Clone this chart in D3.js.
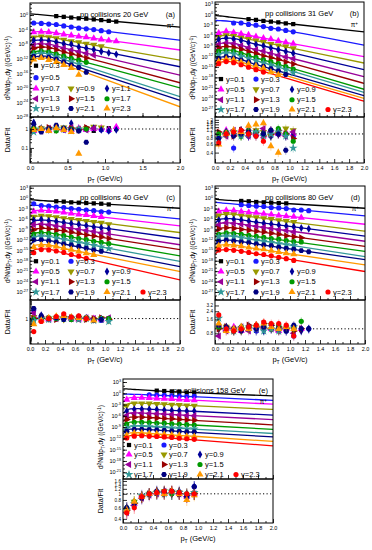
<!DOCTYPE html>
<html lang="en">
<head>
<meta charset="UTF-8">
<title>pi+ spectra in pp collisions</title>
<script src="https://d3js.org/d3.v7.min.js"></script>
<style>
  body { margin: 0; background: #fff; }
  svg { font-family: "Liberation Sans", Arial, sans-serif; }
  .axis path { display: none; }
  .axis line { stroke: #000; stroke-width: 0.8; }
  .axis text { fill: #000; font-size: 5.5px; }
  .rax text { font-size: 4.6px; }
</style>
</head>
<body>
<svg id="chart" width="372" height="550"></svg>
<script>
// pT bin centres (GeV/c) and knots of the fit curves
const ptGrid = [0.05, 0.15, 0.25, 0.35, 0.45, 0.55, 0.65, 0.75, 0.85, 0.95, 1.05, 1.15, 1.25];
const fitPt = [0.005, 0.05, 0.1, 0.2, 0.5, 1.0, 2.0];

// all yields below are log10 of d2N/dpT dy

// 20 GeV
const rapA = ["0.3", "0.5", "0.7", "0.9", "1.1", "1.3", "1.5", "1.7", "1.9", "2.1", "2.3"];
const firstA = [3, 0, 0, 0, 0, 0, 0, 0, 0, 0, 0];
const fitA = [
  [0.3, 0.25, 0.15, -0.05, -0.6, -1.5, -3.3],
  [-2.3, -2.25, -2.25, -2.35, -3.1, -4.4, -6.9],
  [-5.3, -4.7, -4.55, -4.6, -5.4, -6.8, -9.6],
  [-7.2, -6.2, -5.9, -5.9, -7.0, -8.8, -12.4],
  [-8.4, -7.2, -6.9, -6.9, -8.1, -10.1, -14.2],
  [-9.6, -8.3, -7.95, -7.9, -9.3, -11.7, -16.5],
  [-10.6, -9.2, -8.85, -8.8, -10.4, -13.1, -18.6],
  [-11.7, -10.3, -9.95, -9.9, -11.6, -14.4, -20.0],
  [-12.4, -10.9, -10.55, -10.5, -12.5, -15.8, -22.4],
  [-13.3, -11.7, -11.35, -11.3, -13.3, -16.7, -23.4],
  [-13.8, -12.2, -11.85, -11.8, -14.0, -17.7, -25.2]
];
const yieldA = [
  [-0.3, -0.5, -0.7, -0.9, -1.0, -1.2, -1.4, -1.6, -1.8],
  [-2.2, -2.3, -2.5, -2.6, -3.0, -3.3, -3.6, -3.8, -4.0, -4.3, -4.6],
  [-4.7, -4.6, -4.7, -5.0, -5.3, -5.6, -5.9, -6.1, -6.4, -6.7, -7.0, -7.2],
  [-6.2, -5.9, -6.1, -6.4, -6.8, -7.2, -7.5, -7.9, -8.2, -8.6],
  [-6.9, -6.9, -7.1, -7.4, -7.9, -8.0, -8.8, -9.1, -9.5, -10.0, -10.4, -10.8],
  [-8.3, -7.9, -8.1, -8.6, -9.1, -9.6, -10.1, -10.5, -11.0],
  [-9.2, -8.8, -9.1, -9.6, -10.2, -10.7, -11.2, -11.8],
  [-10.3, -9.9, -10.2, -10.7, -11.3, -11.9, -12.4, -13.0],
  [-10.9, -10.5, -10.8, -11.5, -12.2, -12.8, -13.5],
  [-11.4, -11.5, -11.6, -12.1, -12.9, -13.7, -14.4, -15.7],
  [-12.2, -11.8, -12.3, -12.9, -13.7, -14.5, -16.4]
];
const ratioA = [
  [1.0, 0.9, 1.1, 0.9, 1.0, 0.8, 0.9, 1.1, 1.0],
  [1.2, 0.9, 1.1, 1.3, 0.9, 1.0, 0.8, 1.0, 1.1, 0.9, 0.8],
  [0.8, 1.0, 0.9, 1.2, 1.0, 0.9, 1.1, 0.9, 1.0, 1.1, 0.9, 1.3],
  [0.9, 1.1, 1.0, 0.9, 1.2, 1.0, 0.9, 1.1, 1.3, 1.2],
  [2.2, 1.1, 0.9, 1.3, 1.0, 2.0, 0.9, 1.0, 1.1, 0.9, 0.8, 0.9],
  [1.0, 0.8, 1.1, 1.0, 0.9, 1.2, 1.0, 0.9, 1.1],
  [0.9, 1.0, 1.2, 0.9, 1.0, 1.1, 0.9, 1.2],
  [1.1, 0.9, 1.0, 0.8, 1.1, 1.0, 0.9, 1.0],
  [0.7, 1.0, 0.9, 1.1, 1.0, 0.8, 1.0],
  [1.8, 0.7, 1.0, 1.6, 1.1, 0.9, 0.8, 0.2],
  [0.9, 1.0, 0.8, 1.1, 0.9, 0.7, 0.05]
];

// 31 GeV
const rapB = ["0.1", "0.3", "0.5", "0.7", "0.9", "1.1", "1.3", "1.5", "1.7", "1.9", "2.1", "2.3"];
const firstB = [4, 2, 0, 0, 0, 0, 0, 0, 0, 0, 0, 0];
const fitB = [
  [-0.35, -0.45, -0.55, -0.8, -1.5, -2.7, -5.0],
  [-1.75, -1.8, -1.85, -2.0, -3.0, -4.8, -8.8],
  [-6.5, -5.4, -5.05, -5.0, -6.2, -8.2, -12.1],
  [-7.5, -6.4, -6.05, -6.0, -7.3, -9.5, -13.9],
  [-8.3, -7.2, -6.85, -6.8, -8.3, -10.8, -15.8],
  [-9.8, -8.6, -8.25, -8.2, -9.8, -12.4, -17.8],
  [-10.8, -9.6, -9.25, -9.2, -10.9, -13.8, -19.7],
  [-11.8, -10.6, -10.25, -10.2, -12.1, -15.2, -21.4],
  [-12.6, -11.4, -11.05, -11.0, -12.9, -16.0, -22.3],
  [-13.7, -12.5, -12.15, -12.1, -14.0, -17.1, -23.2],
  [-14.4, -13.2, -12.85, -12.8, -14.7, -17.8, -24.0],
  [-15.1, -13.9, -13.55, -13.5, -15.4, -18.5, -24.8]
];
const yieldB = [
  [-1.4, -1.6, -1.9, -2.1, -2.3, -2.6, -2.8],
  [-2.5, -2.5, -2.9, -3.1, -3.5, -4.0, -4.2, -4.6, -5.0],
  [-5.4, -4.9, -5.2, -5.6, -5.9, -6.4, -6.8, -7.1, -7.6, -8.0, -8.4],
  [-6.5, -6.0, -6.2, -6.7, -7.1, -7.5, -7.9, -8.5, -8.9, -9.2, -9.7],
  [-7.2, -6.8, -7.1, -7.5, -8.1, -8.6, -9.0, -9.6, -10.1, -10.6, -11.1],
  [-8.6, -8.2, -8.4, -9.0, -9.6, -10.1, -10.5, -11.1, -11.7, -12.2, -12.7],
  [-9.6, -9.2, -9.5, -10.0, -10.7, -11.2, -11.9, -12.4, -12.9, -13.6, -14.2],
  [-10.6, -10.2, -10.5, -11.2, -11.7, -12.3, -13.0, -13.5, -14.1, -14.9, -15.6],
  [-11.5, -11.0, -11.3, -12.0, -12.6, -13.2, -13.9, -14.5, -15.1, -15.8, -16.7],
  [-12.6, -12.1, -12.5, -13.1, -13.6, -14.4, -14.9, -15.5, -16.2, -17.2],
  [-13.4, -12.8, -13.0, -13.7, -14.2, -14.8, -15.4, -16.5, -17.3],
  [-14.1, -13.5, -13.8, -14.4, -15.1, -15.8, -16.5]
];
const ratioB = [
  [1.0, 1.1, 0.9, 1.0, 1.2, 1.0, 0.9],
  [0.5, 1.0, 0.9, 1.1, 1.0, 0.9, 1.1, 1.0, 0.9],
  [0.9, 1.2, 1.0, 1.1, 1.3, 1.0, 0.9, 1.2, 1.0, 1.1, 1.0],
  [0.8, 1.0, 1.1, 0.9, 1.0, 1.2, 1.1, 0.9, 1.0, 1.3, 1.2],
  [0.9, 1.1, 1.0, 1.2, 0.9, 1.0, 1.1, 0.9, 1.0, 0.9, 1.0],
  [1.0, 0.9, 1.2, 1.1, 0.9, 1.0, 1.3, 1.1, 1.0, 0.9, 1.1],
  [1.1, 1.0, 0.9, 1.2, 1.0, 1.1, 0.9, 1.0, 1.2, 1.0, 0.8],
  [1.0, 1.1, 1.0, 0.9, 1.2, 1.1, 1.0, 1.2, 1.3, 1.0, 0.7],
  [0.8, 1.0, 1.1, 0.9, 1.0, 1.1, 0.9, 1.0, 1.1, 0.9, 0.5],
  [0.8, 1.0, 0.9, 1.0, 1.1, 0.9, 1.0, 1.2, 1.0, 0.45],
  [0.6, 1.0, 1.2, 1.1, 1.5, 1.6, 1.7, 0.55, 0.4],
  [0.65, 1.0, 1.1, 1.2, 1.0, 0.9, 0.7]
];

// 40 GeV
const rapC = rapB;
const firstC = [3, 0, 0, 0, 0, 0, 0, 0, 0, 0, 0, 0];
const fitC = [
  [-0.4, -0.5, -0.6, -0.75, -1.1, -1.7, -2.9],
  [-2.0, -2.05, -2.1, -2.25, -2.9, -3.9, -6.0],
  [-4.7, -3.9, -3.55, -3.5, -4.25, -5.5, -8.0],
  [-6.3, -5.5, -5.15, -5.1, -5.9, -7.2, -9.9],
  [-7.5, -6.7, -6.35, -6.3, -7.2, -8.65, -11.6],
  [-8.7, -7.9, -7.55, -7.5, -8.5, -10.1, -13.4],
  [-9.9, -9.1, -8.75, -8.7, -9.7, -11.4, -14.8],
  [-11.1, -10.3, -9.95, -9.9, -11.0, -12.9, -16.6],
  [-12.1, -11.3, -10.95, -10.9, -12.1, -14.2, -18.2],
  [-13.3, -12.5, -12.15, -12.1, -13.4, -15.5, -19.7],
  [-14.6, -13.8, -13.45, -13.4, -14.7, -16.8, -21.1],
  [-15.8, -15.0, -14.65, -14.6, -16.1, -18.6, -23.5]
];
const yieldC = [
  [-0.9, -1.0, -1.2, -1.3, -1.4, -1.5, -1.6, -1.8],
  [-1.6, -2.1, -2.3, -2.6, -2.7, -3.0, -3.2, -3.4, -3.6, -3.9, -4.0],
  [-3.8, -3.5, -3.7, -3.8, -4.1, -4.4, -4.7, -4.8, -5.1, -5.4],
  [-5.4, -5.1, -5.2, -5.5, -5.8, -6.0, -6.3, -6.6, -6.9, -7.1, -7.5],
  [-6.3, -6.1, -6.5, -6.7, -7.0, -7.3, -7.5, -7.9, -8.3, -8.5, -8.8],
  [-7.6, -7.5, -7.7, -8.0, -8.2, -8.7, -9.0, -9.3, -9.6, -10.0, -10.2],
  [-9.1, -8.6, -8.9, -9.3, -9.4, -9.8, -10.2, -10.6, -10.9, -11.2, -11.6],
  [-10.3, -9.9, -10.1, -10.5, -10.8, -11.2, -11.6, -11.9, -12.4, -12.7, -13.1],
  [-11.4, -10.9, -11.1, -11.5, -11.9, -12.3, -12.8, -13.1, -13.6, -14.0, -14.5],
  [-12.0, -12.0, -12.3, -12.7, -13.2, -13.5, -13.9, -14.4, -14.9, -15.3],
  [-14.1, -13.5, -13.6, -13.9, -14.3, -14.8, -15.3, -15.8, -16.3],
  [-15.7, -14.8, -14.9, -15.2, -15.6, -16.2, -16.7, -17.3]
];
const ratioC = [
  [1.0, 1.1, 0.9, 1.0, 1.1, 0.9, 1.0, 1.0],
  [3.0, 1.3, 1.1, 1.0, 1.2, 0.9, 1.0, 1.1, 0.9, 0.8, 1.0],
  [1.4, 1.0, 0.9, 1.1, 1.2, 1.0, 0.9, 1.1, 1.0, 0.9],
  [1.2, 0.9, 1.0, 1.1, 0.9, 1.0, 1.1, 1.0, 0.9, 1.0, 0.8],
  [2.5, 1.5, 1.0, 1.2, 1.1, 1.0, 1.2, 1.1, 0.9, 1.0, 0.9],
  [2.0, 1.1, 0.9, 1.0, 1.2, 1.0, 0.9, 1.1, 1.0, 0.9, 1.1],
  [1.0, 1.2, 1.0, 0.9, 1.3, 1.1, 1.0, 0.9, 1.0, 1.1, 0.9],
  [0.9, 1.0, 1.1, 1.0, 1.2, 0.9, 1.0, 1.1, 0.8, 1.0, 1.0],
  [0.8, 1.0, 0.9, 1.1, 1.0, 1.1, 0.9, 1.0, 0.8, 0.9, 0.7],
  [3.5, 1.4, 1.0, 1.1, 0.9, 1.2, 1.3, 1.0, 0.8, 0.9],
  [0.5, 0.8, 1.1, 1.3, 1.4, 1.2, 1.1, 1.0, 0.8],
  [0.2, 0.7, 1.0, 1.3, 1.8, 1.2, 1.4, 1.0]
];

// 80 GeV
const rapD = rapB;
const firstD = [3, 3, 0, 0, 0, 0, 0, 0, 0, 0, 0, 0];
const fitD = [
  [-0.3, -0.4, -0.5, -0.65, -1.0, -1.6, -2.9],
  [-1.2, -1.3, -1.4, -1.6, -2.2, -3.1, -5.1],
  [-4.7, -3.9, -3.55, -3.5, -4.15, -5.25, -7.5],
  [-5.8, -5.0, -4.65, -4.6, -5.4, -6.8, -9.5],
  [-7.1, -6.3, -5.95, -5.9, -6.75, -8.1, -10.9],
  [-8.3, -7.5, -7.15, -7.1, -8.0, -9.45, -12.4],
  [-9.7, -8.9, -8.55, -8.5, -9.4, -10.9, -13.9],
  [-11.2, -10.4, -10.05, -10.0, -10.9, -12.35, -15.3],
  [-12.1, -11.3, -10.95, -10.9, -11.9, -13.5, -16.8],
  [-13.3, -12.5, -12.15, -12.1, -13.05, -14.6, -17.7],
  [-14.6, -13.8, -13.45, -13.4, -14.4, -16.0, -19.2],
  [-16.0, -15.2, -14.85, -14.8, -15.85, -17.6, -21.1]
];
const yieldD = [
  [-0.8, -0.9, -1.1, -1.2, -1.3, -1.4, -1.5],
  [-1.9, -2.1, -2.3, -2.4, -2.7, -2.8, -3.0, -3.4, -3.4, -3.6],
  [-3.8, -3.5, -3.6, -3.9, -4.1, -4.2, -4.5, -4.7, -5.0, -5.2, -5.3, -5.6],
  [-5.0, -4.6, -4.7, -5.1, -5.3, -5.5, -5.8, -6.0, -6.4, -6.6, -6.9],
  [-6.3, -5.9, -6.1, -6.3, -6.6, -6.9, -7.2, -7.4, -7.7, -8.0, -8.2, -8.6, -8.8],
  [-7.7, -7.1, -7.3, -7.5, -7.9, -8.1, -8.4, -8.7, -9.1, -9.3, -9.7],
  [-8.9, -8.5, -8.7, -9.0, -9.2, -9.5, -9.7, -10.1, -10.4, -10.8, -11.1, -11.4],
  [-10.4, -10.0, -10.2, -10.4, -10.7, -11.0, -11.3, -11.6, -11.8, -12.2, -12.5, -12.6],
  [-11.1, -10.9, -11.1, -11.4, -11.7, -12.1, -12.4, -12.7, -13.1, -13.4, -13.6],
  [-12.4, -12.1, -12.3, -12.6, -12.8, -13.2, -13.5, -13.7, -14.1, -14.5, -14.7, -15.1, -15.4],
  [-13.7, -13.4, -13.6, -13.8, -14.2, -14.5, -14.7, -15.1, -15.5, -15.8, -16.1],
  [-14.9, -14.8, -15.0, -15.3, -15.6, -16.0, -16.2, -16.6, -17.0, -17.4, -17.9]
];
const ratioD = [
  [1.0, 1.1, 0.9, 1.0, 1.1, 1.0, 0.9],
  [1.0, 1.1, 0.9, 1.2, 1.0, 1.1, 0.9, 0.7, 1.0, 1.0],
  [1.2, 1.0, 1.1, 0.9, 1.0, 1.2, 1.1, 1.0, 0.9, 1.0, 1.1, 1.0],
  [1.0, 1.1, 1.0, 0.9, 1.0, 1.1, 1.0, 1.2, 0.9, 1.0, 1.0],
  [1.0, 1.1, 0.9, 1.0, 1.1, 1.0, 0.9, 1.0, 1.1, 1.0, 1.1, 0.9, 1.0],
  [0.7, 0.9, 1.0, 1.1, 0.9, 1.0, 1.1, 1.0, 0.9, 1.0, 0.8],
  [1.0, 1.1, 0.9, 1.0, 1.2, 1.1, 1.3, 1.2, 1.1, 1.0, 0.9, 1.0],
  [1.1, 1.0, 0.9, 1.1, 1.0, 1.2, 1.1, 1.0, 1.2, 1.1, 1.0, 1.45],
  [1.7, 1.0, 0.9, 1.0, 1.1, 1.0, 0.9, 1.0, 0.9, 1.0, 1.1],
  [1.2, 1.1, 1.0, 0.9, 1.1, 1.0, 1.1, 1.2, 1.0, 0.9, 1.2, 1.0, 1.0],
  [1.3, 0.9, 1.0, 1.1, 1.0, 1.2, 1.3, 1.1, 1.0, 1.1, 1.0],
  [2.0, 1.0, 0.9, 1.0, 1.1, 1.2, 1.4, 1.3, 1.3, 1.2, 0.7]
];

// 158 GeV
const rapE = rapB;
const firstE = [4, 3, 0, 0, 0, 0, 0, 0, 0, 0, 0, 0];
const fitE = [
  [1.2, 1.15, 1.1, 0.95, 0.6, 0.1, -0.7],
  [-0.2, -0.22, -0.25, -0.3, -0.55, -0.95, -1.9],
  [-2.3, -1.5, -1.15, -1.1, -1.4, -1.9, -2.9],
  [-3.8, -3.0, -2.65, -2.6, -2.9, -3.35, -4.3],
  [-5.3, -4.5, -4.15, -4.1, -4.4, -4.85, -5.8],
  [-6.4, -5.6, -5.25, -5.2, -5.5, -6.0, -7.0],
  [-7.5, -6.7, -6.35, -6.3, -6.65, -7.25, -8.4],
  [-8.8, -8.0, -7.65, -7.6, -7.95, -8.5, -9.6],
  [-9.9, -9.1, -8.75, -8.7, -9.05, -9.6, -10.7],
  [-10.7, -9.9, -9.55, -9.5, -9.85, -10.45, -11.6],
  [-11.7, -10.9, -10.55, -10.5, -10.9, -11.5, -12.8],
  [-12.4, -11.6, -11.25, -11.2, -11.7, -12.45, -14.0]
];
const yieldE = [
  [0.7, 0.6, 0.5, 0.4, 0.2, 0.2],
  [-0.4, -0.5, -0.55, -0.65, -0.75, -0.85, -0.8],
  [-1.7, -1.25, -1.2, -1.25, -1.35, -1.45, -1.5, -1.65, -1.8, -1.85],
  [-3.3, -2.7, -2.7, -2.75, -2.85, -2.9, -3.05, -3.1, -3.25, -3.3],
  [-4.7, -4.25, -4.2, -4.25, -4.3, -4.45, -4.55, -4.6, -4.7, -4.7],
  [-5.9, -5.4, -5.3, -5.4, -5.45, -5.5, -5.65, -5.75, -5.9, -5.95],
  [-7.0, -6.45, -6.4, -6.5, -6.6, -6.7, -6.8, -6.95, -7.1, -7.2],
  [-8.2, -7.7, -7.7, -7.8, -7.9, -7.95, -8.1, -8.2, -8.35, -8.45],
  [-9.35, -8.85, -8.8, -8.9, -9.0, -9.1, -9.2, -9.3, -9.45, -9.5],
  [-10.1, -9.65, -9.6, -9.7, -9.75, -9.9, -10.0, -10.15, -10.3, -10.3],
  [-11.2, -10.6, -10.6, -10.7, -10.8, -10.95, -11.05, -11.2, -11.45, -11.5],
  [-11.9, -11.4, -11.3, -11.45, -11.5, -11.6, -11.75, -11.95, -12.1, -12.25]
];
const ratioE = [
  [1.0, 1.05, 1.1, 1.0, 0.95, 1.0],
  [1.0, 1.05, 1.1, 1.0, 1.05, 0.9, 1.3],
  [0.6, 0.7, 0.95, 1.0, 1.05, 1.0, 1.1, 1.05, 0.9, 1.0],
  [0.55, 0.75, 0.9, 1.0, 1.05, 1.1, 1.0, 1.05, 0.95, 1.0],
  [0.6, 0.7, 0.9, 1.0, 1.1, 1.05, 1.0, 1.1, 1.0, 1.3],
  [0.5, 0.65, 0.85, 0.95, 1.0, 1.1, 1.05, 1.0, 0.9, 1.0],
  [0.55, 0.7, 0.9, 1.0, 1.05, 1.0, 1.1, 1.0, 0.95, 1.0],
  [0.6, 0.75, 0.9, 1.0, 1.05, 1.1, 1.0, 1.05, 1.0, 1.0],
  [0.55, 0.7, 0.95, 1.0, 1.05, 1.0, 1.1, 1.05, 0.95, 1.05],
  [0.6, 0.7, 0.85, 1.0, 1.1, 1.05, 1.1, 1.0, 0.9, 1.3],
  [0.55, 0.75, 0.9, 1.0, 1.05, 1.0, 1.1, 1.0, 0.8, 0.95],
  [0.5, 0.6, 0.9, 1.0, 1.05, 1.1, 1.1, 1.05, 1.0, 1.0]
];

const ptTicksA = [0, 0.5, 1, 1.5, 2];
const ptTicks = [0, 0.2, 0.4, 0.6, 0.8, 1, 1.2, 1.4, 1.6, 1.8, 2];
const ptMinor = [0.1, 0.3, 0.5, 0.7, 0.9, 1.1, 1.3, 1.5, 1.7, 1.9];

const colors = ["#000000", "#1a1aff", "#ff00ff", "#999900", "#000099", "#990099",
                "#990000", "#009900", "#339999", "#000080", "#ff9900", "#ff0000"];
const shapes = ["square", "circle", "triUp", "triDown", "diamond", "triLeft",
                "triRight", "circle", "star", "hex", "triUp", "circle"];
const rot = { triDown: 180, triLeft: -90, triRight: 90 };

const hexType = {
  draw(ctx, size) {
    const r = Math.sqrt(size / 2.598);
    for (let i = 0; i < 6; i++) {
      const a = Math.PI / 3 * i;
      if (i === 0) ctx.moveTo(r * Math.cos(a), r * Math.sin(a));
      else ctx.lineTo(r * Math.cos(a), r * Math.sin(a));
    }
    ctx.closePath();
  }
};
const symbolTypes = {
  square: [d3.symbolSquare, 18], circle: [d3.symbolCircle, 21], triUp: [d3.symbolTriangle, 22],
  triDown: [d3.symbolTriangle, 22], triLeft: [d3.symbolTriangle, 22], triRight: [d3.symbolTriangle, 22],
  diamond: [d3.symbolDiamond, 18], star: [d3.symbolStar, 24], hex: [hexType, 21]
};
const symbolFor = s => d3.symbol(symbolTypes[s][0], symbolTypes[s][1])();

const panels = [
  { id: "a", energy: "20", rap: rapA, first: firstA, fit: fitA, yld: yieldA, ratio: ratioA,
    box: { l: 30, r: 180, t: 3, s: 117, b: 163 }, yDom: [-28, 3.3],
    yTicks: [0, -4, -8, -12, -16, -20, -24, -28],
    rDom: [0.016, 4.3], rTicks: [0.1, 1],
    rMinor: [0.02, 0.03, 0.04, 0.05, 0.06, 0.07, 0.08, 0.09, 0.2, 0.3, 0.4, 0.5, 0.6, 0.7, 0.8, 0.9, 2, 3, 4],
    xTicks: ptTicksA, rows: [[0], [1], [2, 3, 4], [5, 6, 7], [8, 9, 10]],
    rowY: [0.55, 0.655, 0.75, 0.84, 0.925] },
  { id: "b", energy: "31", rap: rapB, first: firstB, fit: fitB, yld: yieldB, ratio: ratioB,
    box: { l: 215, r: 364, t: 2, s: 117, b: 163 }, yDom: [-29.3, 3.5],
    yTicks: [3, 0, -3, -6, -9, -12, -15, -18, -21, -24, -27],
    rDom: [0.24, 2.3], rTicks: [0.4, 0.6, 0.8, 1, 1.2, 1.4, 1.6, 1.8, 2], rMinor: [],
    xTicks: ptTicks, rows: [[0, 1], [2, 3, 4], [5, 6, 7], [8, 9, 10, 11]],
    rowY: [0.67, 0.76, 0.85, 0.935] },
  { id: "c", energy: "40", rap: rapC, first: firstC, fit: fitC, yld: yieldC, ratio: ratioC,
    box: { l: 30, r: 180, t: 186, s: 300, b: 344 }, yDom: [-29.3, 3.5],
    yTicks: [3, 0, -3, -6, -9, -12, -15, -18, -21, -24, -27],
    rDom: [0.043, 10], rTicks: [1],
    rMinor: [0.05, 0.06, 0.07, 0.08, 0.09, 0.1, 0.2, 0.3, 0.4, 0.5, 0.6, 0.7, 0.8, 0.9, 2, 3, 4, 5, 6, 7, 8, 9],
    xTicks: ptTicks, rows: [[0, 1], [2, 3, 4], [5, 6, 7], [8, 9, 10, 11]],
    rowY: [0.66, 0.75, 0.84, 0.93] },
  { id: "d", energy: "80", rap: rapD, first: firstD, fit: fitD, yld: yieldD, ratio: ratioD,
    box: { l: 215, r: 365, t: 186, s: 300, b: 344 }, yDom: [-29.3, 3.5],
    yTicks: [3, 0, -3, -6, -9, -12, -15, -18, -21, -24, -27],
    rDom: [0.47, 4.2], rTicks: [0.8, 1.6, 2.4, 3.2], rMinor: [],
    xTicks: ptTicks, rows: [[0, 1], [2, 3, 4], [5, 6, 7], [8, 9, 10, 11]],
    rowY: [0.66, 0.75, 0.84, 0.93] },
  { id: "e", energy: "158", rap: rapE, first: firstE, fit: fitE, yld: yieldE, ratio: ratioE,
    box: { l: 123, r: 273, t: 379, s: 479, b: 523 }, yDom: [-22.8, 3.8],
    yTicks: [3, 0, -3, -6, -9, -12, -15, -18, -21],
    rDom: [0.344, 1.72], rTicks: [0.4, 0.6, 0.8, 1, 1.2, 1.4, 1.6], rMinor: [],
    xTicks: ptTicks, rows: [[0, 1], [2, 3, 4], [5, 6, 7], [8, 9, 10, 11]],
    rowY: [0.66, 0.755, 0.855, 0.955] }
];
const legCols = [6, 41, 77, 113];

const svg = d3.select("#chart");
const defs = svg.append("defs");

function drawPanel(p) {
  const { l, r, t, s, b } = p.box;
  const g = svg.append("g");
  const x = d3.scaleLinear().domain([0, 2]).range([l, r]);
  const yTop = d3.scaleLog().domain([10 ** p.yDom[0], 10 ** p.yDom[1]]).range([s, t]);
  const yRat = d3.scaleLog().domain(p.rDom).range([b, s]);

  defs.append("clipPath").attr("id", "ct" + p.id).append("rect")
    .attr("x", l).attr("y", t).attr("width", r - l).attr("height", s - t);
  defs.append("clipPath").attr("id", "cr" + p.id).append("rect")
    .attr("x", l).attr("y", s).attr("width", r - l).attr("height", b - s);

  // spectra + fits
  const line = d3.line().x(d => x(d[0])).y(d => yTop(10 ** d[1])).curve(d3.curveMonotoneX);
  const top = g.append("g").attr("clip-path", `url(#ct${p.id})`);
  top.selectAll("path.fit").data(p.fit).join("path").attr("class", "fit")
    .attr("d", f => line(fitPt.map((pt, i) => [pt, f[i]])))
    .attr("fill", "none").attr("stroke", (f, i) => colors[i]).attr("stroke-width", 1.3);
  p.yld.forEach((vals, i) => {
    top.append("g").attr("fill", colors[i]).selectAll("path").data(vals).join("path")
      .attr("d", symbolFor(shapes[i]))
      .attr("transform", (v, j) =>
        `translate(${x(ptGrid[p.first[i] + j])},${yTop(10 ** v)}) rotate(${rot[shapes[i]] || 0})`);
  });

  // data / fit
  const rat = g.append("g").attr("clip-path", `url(#cr${p.id})`);
  rat.append("line").attr("x1", l).attr("x2", r).attr("y1", yRat(1)).attr("y2", yRat(1))
    .attr("stroke", "#000").attr("stroke-width", 1).attr("stroke-dasharray", "1.2,2.3");
  p.ratio.forEach((vals, i) => {
    const gg = rat.append("g");
    const px = j => x(ptGrid[p.first[i] + j]);
    gg.selectAll("line").data(vals).join("line")
      .attr("x1", (v, j) => px(j)).attr("x2", (v, j) => px(j))
      .attr("y1", v => yRat(v * 0.8)).attr("y2", v => yRat(v * 1.22))
      .attr("stroke", colors[i]).attr("stroke-opacity", 0.45).attr("stroke-width", 0.8);
    gg.selectAll("path").data(vals).join("path")
      .attr("fill", colors[i]).attr("d", symbolFor(shapes[i]))
      .attr("transform", (v, j) => `translate(${px(j)},${yRat(v)}) rotate(${rot[shapes[i]] || 0})`);
  });

  // frames
  g.append("rect").attr("x", l).attr("y", t).attr("width", r - l).attr("height", s - t)
    .attr("fill", "none").attr("stroke", "#000");
  g.append("rect").attr("x", l).attr("y", s).attr("width", r - l).attr("height", b - s)
    .attr("fill", "none").attr("stroke", "#000");

  // axes
  const decades = d3.range(Math.ceil(p.yDom[0]), Math.floor(p.yDom[1]) + 1).map(e => 10 ** e);
  g.append("g").attr("class", "axis").attr("transform", `translate(${l},0)`)
    .call(d3.axisLeft(yTop).tickValues(decades).tickSize(-2).tickFormat(""));
  const ya = g.append("g").attr("class", "axis").attr("transform", `translate(${l},0)`)
    .call(d3.axisLeft(yTop).tickValues(p.yTicks.map(e => 10 ** e)).tickSize(-4).tickPadding(2).tickFormat(() => ""));
  ya.selectAll(".tick text").each(function (d) {
    const tx = d3.select(this);
    tx.append("tspan").text("10");
    tx.append("tspan").attr("dy", -2.3).attr("font-size", 3.8).text(Math.round(Math.log10(d)));
  });

  g.append("g").attr("class", "axis rax").attr("transform", `translate(${l},0)`)
    .call(d3.axisLeft(yRat).tickValues(p.rMinor).tickSize(-2).tickFormat(""));
  g.append("g").attr("class", "axis rax").attr("transform", `translate(${l},0)`)
    .call(d3.axisLeft(yRat).tickValues(p.rTicks).tickSize(-4).tickPadding(2).tickFormat(d => String(d)));

  [s, b].forEach(yy => {
    g.append("g").attr("class", "axis").attr("transform", `translate(0,${yy})`)
      .call(d3.axisBottom(x).tickValues(ptMinor).tickSize(-2).tickFormat(""));
  });
  g.append("g").attr("class", "axis").attr("transform", `translate(0,${s})`)
    .call(d3.axisBottom(x).tickValues(p.xTicks).tickSize(-4).tickFormat(""));
  g.append("g").attr("class", "axis").attr("transform", `translate(0,${b})`)
    .call(d3.axisBottom(x).tickValues(p.xTicks).tickSize(-4).tickPadding(3).tickFormat(d3.format(".1f")));

  // texts
  g.append("text").attr("x", l + 50).attr("y", t + 14).attr("font-size", 7.5)
    .text(`pp collisions ${p.energy} GeV`);
  g.append("text").attr("x", r - 5).attr("y", t + 14).attr("font-size", 7.5)
    .attr("text-anchor", "end").text(`(${p.id})`);
  const pi = g.append("text").attr("x", r - 6).attr("y", t + 25).attr("font-size", 6.5)
    .attr("text-anchor", "end");
  pi.append("tspan").text("π");
  pi.append("tspan").attr("dy", -2.5).attr("font-size", 4.5).text("+");

  const yl = g.append("text").attr("font-size", 6.5).attr("text-anchor", "middle")
    .attr("transform", `translate(${l - 20},${(t + s) / 2 + 8}) rotate(-90)`);
  yl.append("tspan").text("d");
  yl.append("tspan").attr("dy", -2.3).attr("font-size", 4.5).text("2");
  yl.append("tspan").attr("dy", 2.3).text("N/dp");
  yl.append("tspan").attr("dy", 1.5).attr("font-size", 4.5).text("T");
  yl.append("tspan").attr("dy", -1.5).text(",dy ((GeV/c)");
  yl.append("tspan").attr("dy", -2.3).attr("font-size", 4.5).text("-1");
  yl.append("tspan").attr("dy", 2.3).text(")");

  g.append("text").attr("font-size", 7).attr("text-anchor", "middle")
    .attr("transform", `translate(${l - 20},${(s + b) / 2}) rotate(-90)`).text("Data/Fit");

  const xl = g.append("text").attr("x", (l + r) / 2).attr("y", b + 18)
    .attr("font-size", 7.5).attr("text-anchor", "middle");
  xl.append("tspan").text("p");
  xl.append("tspan").attr("dy", 1.8).attr("font-size", 5).text("T");
  xl.append("tspan").attr("dy", -1.8).text(" (GeV/c)");

  // legend
  p.rows.forEach((row, ri) => {
    const yy = t + p.rowY[ri] * (s - t);
    row.forEach((k, ci) => {
      const xx = l + legCols[ci];
      g.append("path").attr("d", symbolFor(shapes[k])).attr("fill", colors[k])
        .attr("transform", `translate(${xx},${yy}) rotate(${rot[shapes[k]] || 0})`);
      g.append("text").attr("x", xx + 5).attr("y", yy).attr("dy", "0.35em")
        .attr("font-size", 7.5).text("y=" + p.rap[k]);
    });
  });
}

panels.forEach(drawPanel);
</script>
</body>
</html>
